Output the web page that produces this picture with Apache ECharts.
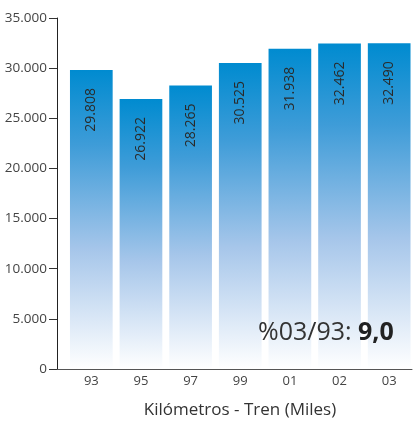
<!DOCTYPE html>
<html>
<head>
<meta charset="utf-8">
<script src="https://cdn.jsdelivr.net/npm/echarts@6/dist/echarts.min.js"></script>
<style>html,body{margin:0;padding:0;background:#fff;}#c{width:417px;height:421px;}</style>
</head>
<body>
<div id="c"></div>
<script>
const categories = ['93', '95', '97', '99', '01', '02', '03'];
const values = [29808, 26922, 28265, 30525, 31938, 32462, 32490];
const yTicks = [0, 5000, 10000, 15000, 20000, 25000, 30000, 35000];
const axisTitle = 'Kilómetros - Tren (Miles)';
const noteLabel = '%03/93: ';
const noteValue = '9,0';

const FONT = '"Open Sans", "Noto Sans", sans-serif';
function fmt(v) { return String(v).replace(/\B(?=(\d{3})+(?!\d))/g, '.'); }

const chart = echarts.init(document.getElementById('c'), null, {renderer: 'canvas'});
chart.setOption({
  animation: false,
  backgroundColor: '#fff',
  textStyle: {fontFamily: FONT},
  grid: [
    {left: 57, right: 5, top: 18, bottom: 52},
    {left: 66.5, right: 3, top: 18, bottom: 52}
  ],
  xAxis: [
    {gridIndex: 0, type: 'category', data: categories,
     axisLine: {show: true, lineStyle: {color: '#555', width: 1}},
     axisTick: {show: false}, axisLabel: {show: false}, splitLine: {show: false}},
    {gridIndex: 1, type: 'category', data: categories,
     axisLine: {show: false}, axisTick: {show: false},
     axisLabel: {color: '#444', fontSize: 13, margin: 6, fontFamily: FONT}}
  ],
  yAxis: [
    {gridIndex: 0, type: 'value', min: yTicks[0], max: yTicks[yTicks.length - 1], interval: 5000,
     axisLine: {show: true, lineStyle: {color: '#222', width: 1}},
     axisTick: {show: true, length: 8, lineStyle: {color: '#333'}},
     axisLabel: {color: '#444', fontSize: 13.5, margin: 10, fontFamily: FONT, formatter: v => fmt(v)},
     splitLine: {show: false}},
    {gridIndex: 1, type: 'value', min: yTicks[0], max: yTicks[yTicks.length - 1], show: false,
     splitLine: {show: false}}
  ],
  series: [{
    type: 'bar', xAxisIndex: 1, yAxisIndex: 1,
    data: values,
    barCategoryGap: '14%',
    itemStyle: {
      color: new echarts.graphic.LinearGradient(0, 0, 0, 1, [
        {offset: 0, color: '#008bd0'},
        {offset: 0.25, color: '#3e9cd8'},
        {offset: 0.6, color: '#a6c6ea'},
        {offset: 1, color: '#ffffff'}
      ])
    },
    label: {
      show: true, position: 'insideTop', rotate: 90, distance: 18,
      align: 'right', verticalAlign: 'middle',
      color: '#2a2a2a', fontSize: 14, fontFamily: FONT,
      formatter: p => fmt(p.value)
    }
  }],
  graphic: [
    {type: 'text', x: 240, y: 410, z: 100, style: {text: axisTitle, fill: '#333', font: '17px ' + FONT, textAlign: 'center', textVerticalAlign: 'middle'}},
    {type: 'text', x: 258, y: 333, z: 100, style: {
      text: '{a|' + noteLabel + '}{b|' + noteValue + '}',
      textVerticalAlign: 'middle',
      rich: {
        a: {fontSize: 25, fontFamily: FONT, fill: '#333'},
        b: {fontSize: 25, fontFamily: FONT, fontWeight: 'bold', fill: '#222'}
      }
    }}
  ]
});
</script>
</body>
</html>
